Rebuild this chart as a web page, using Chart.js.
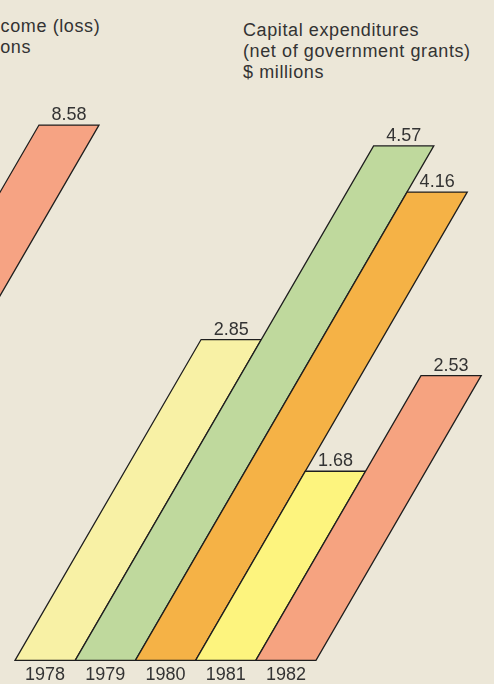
<!DOCTYPE html>
<html lang="en">
<head>
  <meta charset="UTF-8">
  <title>Capital expenditures</title>
  <script src="https://cdn.jsdelivr.net/npm/chart.js"></script>
  <style>
    html, body {
      margin: 0;
      padding: 0;
      width: 494px;
      height: 684px;
      overflow: hidden;
      background: #ece7d8;
      font-family: "Liberation Sans", Arial, sans-serif;
      color: #333;
    }
    .wrap {
      position: relative;
      width: 494px;
      height: 684px;
      overflow: hidden;
    }
    canvas {
      position: absolute;
      top: 0;
    }
    .title {
      position: absolute;
      font-size: 18px;
      line-height: 21px;
      letter-spacing: 0.6px;
      white-space: nowrap;
    }
  </style>
</head>
<body>
  <div class="wrap">
    <div class="title" style="left:-50px; top:16px;">Net income (loss)<br>$ millions</div>
    <div class="title" style="left:243px; top:20px;">Capital expenditures<br>(net of government grants)<br>$ millions</div>
    <canvas id="incomeChart" width="494" height="684" style="left:-300px"></canvas>
    <canvas id="capexChart" width="494" height="690" style="left:0"></canvas>
  </div>

  <script>
    // Capital expenditures, $ millions
    const years = ['1978', '1979', '1980', '1981', '1982'];
    const capex = [2.85, 4.57, 4.16, 1.68, 2.53];
    const capexColors = ['#f8f1a5', '#bfd99d', '#f5b246', '#fdf47e', '#f6a380'];

    // Net income (loss), $ millions -- only the last bar of this panel shows
    const incomeYears = ['1982'];
    const income = [8.58];
    const incomeColors = ['#f6a383'];

    const SKEW = 0.58;   // horizontal shift per pixel of bar height
    const FONT = '"Liberation Sans", Arial, sans-serif';

    // draws every bar as a slanted parallelogram with its value on top
    const slantBars = {
      id: 'slantBars',
      beforeDatasetDraw(chart, args) {
        const ctx = chart.ctx;
        const ds = chart.data.datasets[args.index];
        args.meta.data.forEach((bar, i) => {
          const p = bar.getProps(['x', 'y', 'base', 'width'], true);
          const half = p.width / 2;
          const dx = (p.base - p.y) * SKEW;
          ctx.save();
          ctx.beginPath();
          ctx.moveTo(p.x - half, p.base);
          ctx.lineTo(p.x + half, p.base);
          ctx.lineTo(p.x + half + dx, p.y);
          ctx.lineTo(p.x - half + dx, p.y);
          ctx.closePath();
          ctx.fillStyle = ds.backgroundColor[i];
          ctx.fill();
          ctx.strokeStyle = '#1e1e1e';
          ctx.lineWidth = 1.3;
          ctx.stroke();
          ctx.fillStyle = '#333';
          ctx.font = '18px ' + FONT;
          ctx.textAlign = 'center';
          ctx.textBaseline = 'alphabetic';
          ctx.fillText(ds.data[i].toFixed(2), p.x + dx, p.y - 5);
          ctx.restore();
        });
        return false;
      }
    };

    new Chart(document.getElementById('capexChart'), {
      type: 'bar',
      data: {
        labels: years,
        datasets: [{
          data: capex,
          backgroundColor: capexColors,
          barPercentage: 1,
          categoryPercentage: 1
        }]
      },
      options: {
        responsive: false,
        animation: false,
        layout: { padding: { top: 97.5, left: 15, right: 178, bottom: 0 } },
        plugins: { legend: { display: false }, tooltip: { enabled: false } },
        scales: {
          x: {
            grid: { display: false, drawTicks: false },
            border: { display: false },
            ticks: {
              padding: 4,
              color: '#333',
              font: { family: FONT, size: 18, lineHeight: 1.2 }
            }
          },
          y: { display: false, min: 0, max: 5 }
        }
      },
      plugins: [slantBars]
    });

    new Chart(document.getElementById('incomeChart'), {
      type: 'bar',
      data: {
        labels: incomeYears,
        datasets: [{
          data: income,
          backgroundColor: incomeColors,
          barPercentage: 1,
          categoryPercentage: 1
        }]
      },
      options: {
        responsive: false,
        animation: false,
        layout: { padding: { top: 36.5, left: 28.7, right: 405.3, bottom: 24 } },
        plugins: { legend: { display: false }, tooltip: { enabled: false } },
        scales: {
          x: { display: false },
          y: { display: false, min: 0, max: 10 }
        }
      },
      plugins: [slantBars]
    });
  </script>
</body>
</html>
